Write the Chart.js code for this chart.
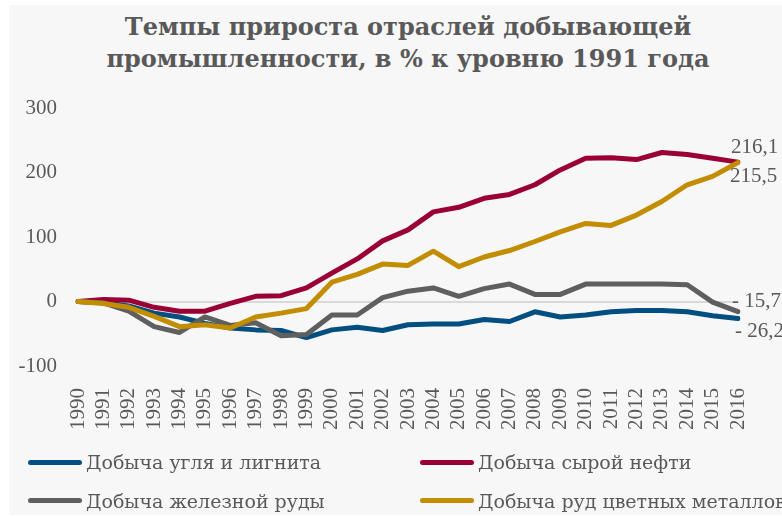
<!DOCTYPE html>
<html lang="ru">

<head>
  <meta charset="UTF-8">
  <title>Темпы прироста</title>
  <script src="https://cdn.jsdelivr.net/npm/chart.js@4"></script>
  <style>
  body {
    margin: 0;
    width: 782px;
    height: 516px;
    overflow: hidden;
    background: #ffffff;
    position: relative;
  }

  #panel {
    position: absolute;
    left: 9px;
    top: 5px;
    right: 0;
    bottom: 1px;
    background: #f7f7f7;
  }

  #myChart {
    position: absolute;
    left: 0;
    top: 0;
  }

  #title {
    position: absolute;
    left: 78px;
    width: 660px;
    top: 11px;
    text-align: center;
    font: bold 24px/32px "DejaVu Serif", serif;
    color: #595959;
    white-space: nowrap;
  }

  .mark {
    position: absolute;
    width: 54px;
    height: 5px;
    border-radius: 3px;
  }

  .item {
    position: absolute;
    font: 19px/20px "DejaVu Serif", serif;
    color: #595959;
    white-space: nowrap;
  }
  </style>
</head>

<body>
  <div id="panel"></div>
  <div id="title">Темпы прироста отраслей добывающей<br>промышленности, в % к уровню 1991 года</div>
  <canvas id="myChart" width="782" height="516"></canvas>
  <div id="legend"></div>

  <script>
    var years = ['1990', '1991', '1992', '1993', '1994', '1995', '1996', '1997', '1998', '1999',
      '2000', '2001', '2002', '2003', '2004', '2005', '2006', '2007', '2008', '2009',
      '2010', '2011', '2012', '2013', '2014', '2015', '2016']

    var coal = [0, -2, -7, -18, -24, -34, -41, -44, -45, -56, -44, -40, -45, -36, -35, -35,
      -28, -31, -16, -24, -21, -16, -14, -14, -16, -22, -26.2]
    var oil = [0, 3, 2, -9, -15, -15, -3, 8, 9, 21, 44, 66, 94, 111, 139, 146,
      160, 166, 181, 204, 222, 223, 220, 231, 228, 222, 216.1]
    var iron = [0, -2, -15, -39, -48, -24, -37, -33, -53, -51, -21, -21, 6, 16, 21, 8,
      20, 27, 11, 11, 27, 27, 27, 27, 26, -1, -15.7]
    var metals = [0, -3, -9, -23, -39, -36, -41, -24, -18, -11, 30, 42, 58, 56, 78, 54,
      69, 79, 93, 108, 121, 118, 134, 155, 181, 194, 215.5]

    var names = ['Добыча угля и лигнита', 'Добыча сырой нефти', 'Добыча железной руды', 'Добыча руд цветных металлов']
    var yTicks = [-100, 0, 100, 200, 300]

    var colors = ['#004f80', '#9a0036', '#5f5f5f', '#c28d00']
    var textColor = '#595959'

    // where the last-value label sits next to the end point
    var endLabelShift = [
      { dx: -3, dy: 13 },
      { dx: -7, dy: -15 },
      { dx: -6, dy: -10 },
      { dx: -8, dy: 14 }
    ]

    function fmt(v) {
      var s = Math.abs(v).toFixed(1).replace('.', ',')
      return v < 0 ? '- ' + s : s
    }

    var endLabels = {
      id: 'endLabels',
      afterDatasetsDraw: function (chart) {
        var ctx = chart.ctx
        ctx.save()
        ctx.font = '21px "Liberation Serif", serif'
        ctx.fillStyle = textColor
        ctx.textAlign = 'left'
        ctx.textBaseline = 'middle'
        chart.data.datasets.forEach(function (ds, i) {
          var meta = chart.getDatasetMeta(i)
          var last = meta.data[meta.data.length - 1]
          var v = ds.data[ds.data.length - 1]
          ctx.fillText(fmt(v), last.x + endLabelShift[i].dx, last.y + endLabelShift[i].dy)
        })
        ctx.restore()
      }
    }

    var series = [coal, oil, iron, metals]
    var datasets = series.map(function (d, i) {
      return {
        label: names[i],
        data: d,
        borderColor: colors[i],
        backgroundColor: colors[i],
        borderWidth: 5,
        pointRadius: 0,
        tension: 0,
        borderJoinStyle: 'round',
        borderCapStyle: 'round',
        order: 3 - i
      }
    })

    new Chart(document.getElementById('myChart'), {
      type: 'line',
      data: { labels: years, datasets: datasets },
      options: {
        responsive: false,
        animation: false,
        layout: { padding: { top: 108, right: 44, bottom: 0, left: 0 } },
        plugins: {
          legend: { display: false },
          tooltip: { enabled: false }
        },
        scales: {
          x: {
            offset: false,
            grid: { display: false },
            border: { display: false },
            ticks: {
              autoSkip: false,
              minRotation: 90,
              maxRotation: 90,
              padding: 14,
              color: textColor,
              font: { family: '"Liberation Serif", serif', size: 21 }
            },
            afterFit: function (s) { s.height = 150 }
          },
          y: {
            min: yTicks[0],
            max: yTicks[yTicks.length - 1],
            border: { display: false },
            grid: {
              drawTicks: false,
              lineWidth: 2,
              color: function (c) { return c.tick && c.tick.value === 0 ? '#d9d9d9' : 'rgba(0,0,0,0)' }
            },
            afterBuildTicks: function (s) { s.ticks = yTicks.map(function (v) { return { value: v } }) },
            ticks: {
              padding: 21,
              color: textColor,
              font: { family: '"Liberation Serif", serif', size: 21 }
            },
            afterFit: function (s) { s.width = 78 }
          }
        }
      },
      plugins: [endLabels]
    })

    // legend in two columns, like the original
    var legendPos = [
      { x: 28, y: 460 },
      { x: 420, y: 460 },
      { x: 28, y: 498 },
      { x: 420, y: 498 }
    ]
    var legend = document.getElementById('legend')
    names.forEach(function (n, i) {
      var m = document.createElement('div')
      m.className = 'mark'
      m.style.left = legendPos[i].x + 'px'
      m.style.top = legendPos[i].y + 'px'
      m.style.background = colors[i]
      legend.appendChild(m)

      var t = document.createElement('div')
      t.className = 'item'
      t.style.left = (legendPos[i].x + 58) + 'px'
      t.style.top = (legendPos[i].y - 8 + (i > 1 ? 1 : 0)) + 'px'
      t.textContent = n
      legend.appendChild(t)
    })
  </script>
</body>

</html>
